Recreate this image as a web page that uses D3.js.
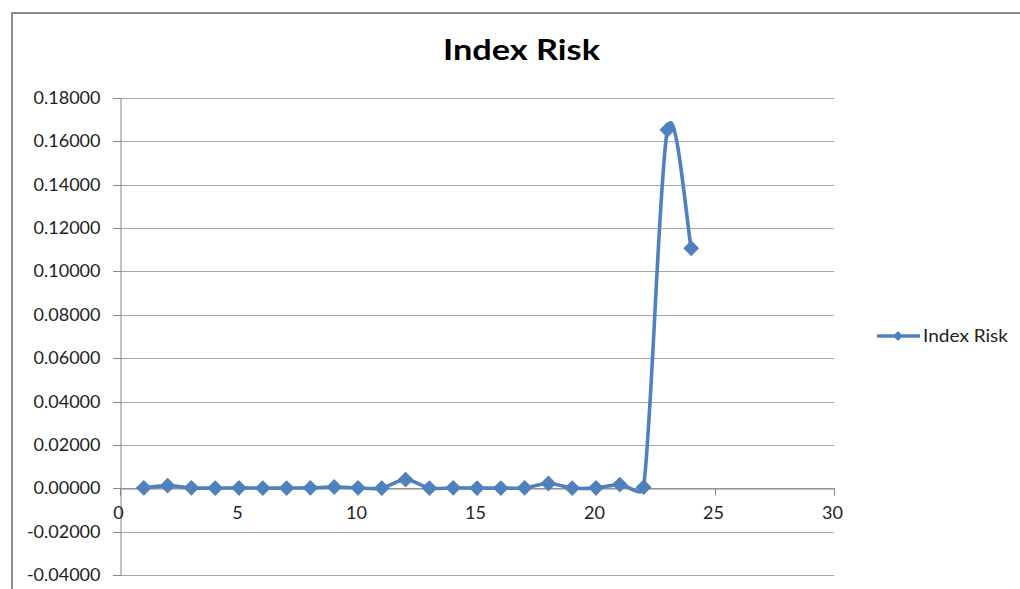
<!DOCTYPE html>
<html><head><meta charset="utf-8">
<script src="https://cdn.jsdelivr.net/npm/d3@7"></script>
<style>body{margin:0;background:#fff;}svg{display:block;}</style>
</head><body>
<svg id="c" width="1020" height="589"></svg>
<script>
const xValues = [1,2,3,4,5,6,7,8,9,10,11,12,13,14,15,16,17,18,19,20,21,22,23,24];
const riskValues = [0.0002,0.0012,0.0002,0.0001,0.0002,0.0001,0.0001,0.0002,0.0006,0.0002,0.0001,0.0040,0.0001,0.0002,0.0001,0.0001,0.0002,0.0022,0.0001,0.0002,0.0017,0.0005,0.1653,0.1107];
const xTicks = [0,5,10,15,20,25,30];
const yTicks = [-0.04,-0.02,0,0.02,0.04,0.06,0.08,0.10,0.12,0.14,0.16,0.18];
const seriesName = "Index Risk";
const title = "Index Risk";

const svg = d3.select("#c");
const font = "Lato, 'Open Sans', sans-serif";
const color = "#4F81BD";

// Excel-like smoothed curve: Catmull-Rom tangents with arms limited by segment length
function excelSmooth(context) {
  let pts = [];
  return {
    areaStart(){}, areaEnd(){},
    lineStart(){ pts = []; },
    point(x, y){ pts.push([+x, +y]); },
    lineEnd(){
      const n = pts.length;
      if (!n) return;
      context.moveTo(pts[0][0], pts[0][1]);
      if (n === 1) return;
      const dist = (a,b)=>Math.hypot(b[0]-a[0], b[1]-a[1]);
      const k = 0.5;
      // tangent direction and arms
      const ctrl = pts.map((p,i)=>{
        const prev = pts[Math.max(0,i-1)], next = pts[Math.min(n-1,i+1)];
        const dx = next[0]-prev[0], dy = next[1]-prev[1];
        const len = Math.hypot(dx,dy) || 1;
        const ux = dx/len, uy = dy/len;
        const base = len/6;
        const armN = i<n-1 ? Math.min(base, k*dist(p,pts[i+1])) : 0;
        const armP = i>0 ? Math.min(base, k*dist(p,pts[i-1])) : 0;
        return {out:[p[0]+ux*armN, p[1]+uy*armN], inn:[p[0]-ux*armP, p[1]-uy*armP]};
      });
      for (let i=0;i<n-1;i++){
        const c1 = ctrl[i].out, c2 = ctrl[i+1].inn, p = pts[i+1];
        context.bezierCurveTo(c1[0],c1[1],c2[0],c2[1],p[0],p[1]);
      }
    }
  };
}

// outer chart frame
svg.append("rect").attr("x",12).attr("y",13).attr("width",1100).attr("height",700)
  .attr("fill","none").attr("stroke","#8c8c8c").attr("stroke-width",2);

const x = d3.scaleLinear().domain([0,30]).range([120,834]);
const y = d3.scaleLinear().domain([-0.04,0.18]).range([575,98]);

// gridlines
svg.append("g").selectAll("line").data(yTicks).join("line")
  .attr("x1",113).attr("x2",834)
  .attr("y1",d=>Math.round(y(d))+0.5).attr("y2",d=>Math.round(y(d))+0.5)
  .attr("stroke","#a6a6a6").attr("stroke-width",1);

// y axis
const yAxis = d3.axisLeft(y).tickValues(yTicks).tickSize(7).tickPadding(13)
  .tickFormat(d=>d3.format(".5f")(d).replace("−","-"));
const gy = svg.append("g").attr("transform","translate(120.5,0)").call(yAxis);
gy.select(".domain").attr("stroke","#868686");
gy.selectAll(".tick line").attr("stroke","#868686");
gy.selectAll("text").attr("font-family",font).attr("font-size",18).attr("fill","#222");
gy.selectAll(".tick").attr("transform",d=>`translate(0,${Math.round(y(d))+0.5})`);

// x axis at zero
const xAxis = d3.axisBottom(x).tickValues(xTicks).tickSize(7).tickPadding(11).tickFormat(d3.format("d"));
const gx = svg.append("g").attr("transform",`translate(0,${Math.round(y(0))+0.5})`).call(xAxis);
gx.select(".domain").attr("stroke","#868686");
gx.selectAll(".tick line").attr("stroke","#868686");
gx.selectAll("text").attr("font-family",font).attr("font-size",18).attr("fill","#222").attr("dx",-2);

// line
const data = xValues.map((v,i)=>({x:v,y:riskValues[i]}));
const line = d3.line().x(d=>x(d.x)).y(d=>y(d.y)).curve(excelSmooth);
svg.append("path").datum(data).attr("d",line).attr("fill","none")
  .attr("stroke",color).attr("stroke-width",3.6).attr("stroke-linejoin","round").attr("stroke-linecap","round");

const diamond = d3.symbol().type(d3.symbolDiamond2).size(160);
svg.append("g").selectAll("path").data(data).join("path")
  .attr("d",diamond).attr("transform",d=>`translate(${x(d.x)},${y(d.y)})`).attr("fill",color);

// title
svg.append("text").attr("x",521.5).attr("y",60).attr("text-anchor","middle")
  .attr("font-family",font).attr("font-weight","bold").attr("font-size",29)
  .attr("textLength",157).attr("lengthAdjust","spacingAndGlyphs").attr("fill","#000").text(title);

// legend
svg.append("line").attr("x1",877).attr("x2",920).attr("y1",336).attr("y2",336)
  .attr("stroke",color).attr("stroke-width",3.6);
svg.append("path").attr("d",d3.symbol().type(d3.symbolDiamond2).size(64)).attr("transform","translate(898,336)").attr("fill",color);
svg.append("text").attr("x",923).attr("y",342).attr("font-family",font).attr("font-size",18)
  .attr("textLength",85).attr("lengthAdjust","spacingAndGlyphs").attr("fill","#222").text(seriesName);
</script>
</body></html>
